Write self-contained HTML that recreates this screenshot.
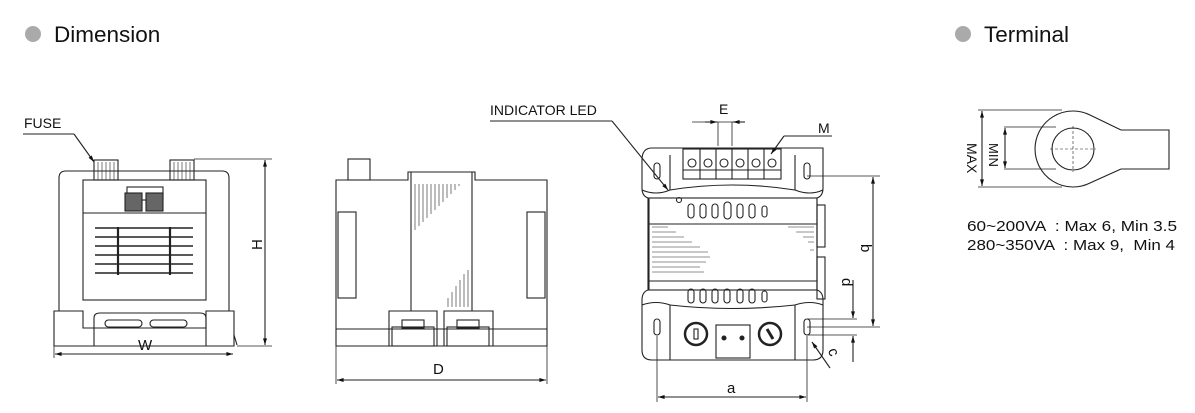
<!DOCTYPE html>
<html><head><meta charset="utf-8"><style>
body{margin:0;background:#fff}
svg{display:block}
text{font-family:"Liberation Sans",sans-serif;fill:#111;white-space:pre}
</style></head><body>
<svg width="1195" height="413" viewBox="0 0 1195 413" xmlns="http://www.w3.org/2000/svg">
<defs>
<marker id="ar" viewBox="0 0 10 10" refX="10" refY="5" markerWidth="8" markerHeight="6" orient="auto-start-reverse"><path d="M0,2 L10,5 L0,8 z" fill="#111"/></marker>
</defs>
<circle cx="33" cy="34" r="8" fill="#aaa"/>
<text x="54" y="42" font-size="22.5">Dimension</text>
<circle cx="963" cy="34" r="8" fill="#aaa"/>
<text x="984" y="42" font-size="22.5">Terminal</text>

<g fill="none" stroke="#222" stroke-width="1.1">
<!-- Front view -->
<text x="24" y="128" font-size="14" stroke="none">FUSE</text>
<line x1="23" y1="134" x2="74" y2="134"/>
<line x1="74" y1="134" x2="94" y2="162" marker-end="url(#ar)"/>
<path d="M59,311 V178 Q59,171 66,171 H222 Q229,171 229,178 V311"/>
<rect x="83" y="180" width="123" height="120"/>
<line x1="83" y1="213" x2="206" y2="213"/>
<rect x="94" y="160" width="24" height="20"/>
<rect x="170" y="160" width="24" height="20"/>
<g stroke-width="0.6"><path d="M98,162V180M102,162V180M106,162V180M110,162V180M114,162V180M174,162V180M178,162V180M182,162V180M186,162V180M190,162V180"/></g>
<rect x="127" y="187" width="36" height="13"/>
<rect x="125" y="193" width="17" height="18" fill="#666"/>
<rect x="146" y="193" width="17" height="18" fill="#666"/>
<g stroke-width="1.4"><path d="M95,228H193M95,237H193M95,246H193M95,255H193M95,264H193M95,273H193"/>
<path d="M118,227V275M170,227V275" stroke-width="2.2"/></g>
<path d="M54,346V311H83V328H206V311H234V346Z"/>
<path d="M94,346V318Q94,313 100,313H200Q206,313 206,318V346"/>
<rect x="105" y="320" width="37" height="7" rx="3.5"/>
<rect x="150" y="320" width="37" height="7" rx="3.5"/>
<line x1="234" y1="335" x2="237" y2="345"/>
<line x1="194" y1="159" x2="272" y2="159" stroke-width="0.8"/>
<line x1="237" y1="346" x2="272" y2="346" stroke-width="0.8"/>
<line x1="265" y1="160" x2="265" y2="345" marker-start="url(#ar)" marker-end="url(#ar)"/>
<text x="250" y="248" font-size="15" stroke="none" transform="rotate(-90 257 243)">H</text>
<line x1="54" y1="346" x2="54" y2="358" stroke-width="0.8"/>
<line x1="55" y1="354" x2="233" y2="354" marker-start="url(#ar)" marker-end="url(#ar)"/>
<text x="138" y="350" font-size="15" stroke="none">W</text>

<!-- Side view -->
<rect x="348" y="159" width="22" height="21"/>
<path d="M336,346V180H408V172H475V180H547V346Z"/>
<line x1="411" y1="172" x2="411" y2="311"/>
<line x1="472" y1="172" x2="472" y2="311"/>
<rect x="338" y="212" width="18" height="86"/>
<rect x="527" y="212" width="18" height="86"/>
<line x1="336" y1="329" x2="547" y2="329"/>
<path d="M389,346V311H437V346M444,346V311H493V346"/>
<rect x="392" y="327" width="42" height="19"/><rect x="402" y="320" width="22" height="8"/>
<rect x="447" y="327" width="42" height="19"/><rect x="457" y="320" width="22" height="8"/>
<g stroke-width="0.6"><path d="M415,184V230M419,184V226M423,184V222M427,184V218M431,184V214M435,184V210M439,184V206M443,184V202M447,184V198M451,184V194M455,184V190M459,184V186M448,307V298M452,307V292M456,307V286M460,307V280M464,307V274M468,307V270"/></g>
<line x1="336" y1="346" x2="336" y2="384" stroke-width="0.8"/>
<line x1="547" y1="346" x2="547" y2="384" stroke-width="0.8"/>
<line x1="337" y1="380" x2="546" y2="380" marker-start="url(#ar)" marker-end="url(#ar)"/>
<text x="433" y="374" font-size="15" stroke="none">D</text>

<!-- Front top view -->
<text x="490" y="115" font-size="14" stroke="none">INDICATOR LED</text>
<line x1="490" y1="121" x2="612" y2="121"/>
<line x1="612" y1="121" x2="668" y2="190" marker-end="url(#ar)"/>
<circle cx="679" cy="200" r="2.5"/>
<path d="M650,148H823Q823,148 823,160V188Q823,196 817,198V290Q823,292 823,300V350Q823,360 813,360H652Q642,360 642,350V300Q642,292 648,290V198Q642,196 642,188V160Q642,148 652,148Z"/>
<path d="M642,190Q656,196 670,190V155"/>
<path d="M823,190Q810,196 795,190V155"/>
<path d="M642,305Q656,300 670,305V360"/>
<path d="M823,305Q810,300 795,305V360"/>
<path d="M670,190Q732,180 795,190"/>
<path d="M670,305Q732,312 795,305"/>
<rect x="649" y="198" width="168" height="92"/>
<line x1="649" y1="224" x2="817" y2="224"/>
<line x1="649" y1="281" x2="817" y2="281"/>
<g stroke-width="0.6"><path d="M652,227H668M652,232H676M652,237H684M652,242H692M652,247H700M652,252H708M652,257H710M652,262H706M652,267H700M652,272H704M788,227H814M796,232H814M803,237H814M808,242H814M810,250H814"/></g>
<rect x="817" y="205" width="8" height="42"/><rect x="817" y="257" width="8" height="42"/>
<g><rect x="688" y="204" width="6" height="14" rx="3"/><rect x="700" y="204" width="6" height="14" rx="3"/><rect x="712" y="204" width="6" height="14" rx="3"/><rect x="724" y="202" width="7" height="17" rx="3.5"/><rect x="737" y="204" width="6" height="14" rx="3"/><rect x="749" y="204" width="6" height="14" rx="3"/><rect x="762" y="206" width="5" height="11" rx="2.5"/></g>
<g><rect x="688" y="289" width="6" height="14" rx="3"/><rect x="700" y="289" width="6" height="14" rx="3"/><rect x="712" y="289" width="6" height="14" rx="3"/><rect x="724" y="289" width="6" height="14" rx="3"/><rect x="737" y="289" width="6" height="14" rx="3"/><rect x="749" y="289" width="6" height="14" rx="3"/><rect x="762" y="291" width="5" height="11" rx="2.5"/></g>
<rect x="683" y="149" width="98" height="30"/>
<line x1="683" y1="170" x2="781" y2="170"/>
<g><circle cx="692" cy="163" r="4"/><circle cx="708" cy="163" r="4"/><circle cx="724" cy="163" r="4"/><circle cx="740" cy="163" r="4"/><circle cx="756" cy="163" r="4"/><circle cx="772" cy="163" r="4"/>
<path d="M700,149V179M716,149V179M732,149V179M748,149V179M764,149V179"/></g>
<rect x="654" y="163" width="6" height="16" rx="3"/>
<rect x="804" y="163" width="6" height="16" rx="3"/>
<rect x="654" y="319" width="6" height="16" rx="3"/>
<rect x="804" y="319" width="6" height="16" rx="3"/>
<circle cx="696" cy="334" r="11" stroke-width="2.5"/><rect x="694" y="329" width="4" height="10"/>
<circle cx="770" cy="334" r="11" stroke-width="2.5"/><line x1="767" y1="329" x2="773" y2="339" stroke-width="3"/>
<rect x="716" y="325" width="34" height="33"/><circle cx="724" cy="338" r="2" fill="#222"/><circle cx="742" cy="338" r="2" fill="#222"/>
<line x1="692" y1="122" x2="744" y2="122" stroke-width="0.8"/>
<line x1="718" y1="122" x2="718" y2="146" stroke-width="0.8"/>
<line x1="732" y1="122" x2="732" y2="146" stroke-width="0.8"/>
<line x1="705" y1="122" x2="717" y2="122" marker-end="url(#ar)"/>
<line x1="745" y1="122" x2="733" y2="122" marker-end="url(#ar)"/>
<text x="719" y="114" font-size="14" stroke="none">E</text>
<text x="818" y="133" font-size="14" stroke="none">M</text>
<line x1="784" y1="136" x2="832" y2="136"/>
<line x1="784" y1="136" x2="771" y2="154" marker-end="url(#ar)"/>
<line x1="807" y1="176" x2="880" y2="176" stroke-width="0.8"/>
<line x1="807" y1="327" x2="880" y2="327" stroke-width="0.8"/>
<line x1="873" y1="177" x2="873" y2="326" marker-start="url(#ar)" marker-end="url(#ar)"/>
<text x="858" y="257" font-size="15" stroke="none" transform="rotate(90 866 252)">b</text>
<line x1="807" y1="319" x2="857" y2="319" stroke-width="0.8"/>
<line x1="807" y1="335" x2="857" y2="335" stroke-width="0.8"/>
<line x1="853" y1="280" x2="853" y2="318" marker-end="url(#ar)"/>
<line x1="853" y1="362" x2="853" y2="336" marker-end="url(#ar)"/>
<text x="838" y="290" font-size="15" stroke="none" transform="rotate(90 846 286)">d</text>
<line x1="830" y1="368" x2="812" y2="342" marker-end="url(#ar)"/>
<text x="825" y="358" font-size="15" stroke="none" transform="rotate(70 832 356)">c</text>
<line x1="657" y1="336" x2="657" y2="402" stroke-width="0.8"/>
<line x1="807" y1="336" x2="807" y2="402" stroke-width="0.8"/>
<line x1="658" y1="397" x2="806" y2="397" marker-start="url(#ar)" marker-end="url(#ar)"/>
<text x="727" y="393" font-size="15" stroke="none">a</text>

<!-- Terminal -->
<path d="M1121,130H1169V169H1121"/>
<path d="M1121,130L1090,115A38,38 0 1 0 1090,183L1121,169"/>
<circle cx="1073" cy="149" r="21"/>
<line x1="1050" y1="149" x2="1096" y2="149" stroke-dasharray="3,2" stroke-width="0.6"/>
<line x1="1073" y1="126" x2="1073" y2="172" stroke-dasharray="3,2" stroke-width="0.6"/>
<line x1="978" y1="110" x2="1062" y2="110" stroke-width="0.7"/>
<line x1="978" y1="187" x2="1062" y2="187" stroke-width="0.7"/>
<line x1="982" y1="111" x2="982" y2="186" marker-start="url(#ar)" marker-end="url(#ar)"/>
<line x1="1004" y1="127" x2="1056" y2="127" stroke-width="0.7"/>
<line x1="1004" y1="169" x2="1056" y2="169" stroke-width="0.7"/>
<line x1="1005" y1="128" x2="1005" y2="168" marker-start="url(#ar)" marker-end="url(#ar)"/>
<text x="965" y="155" font-size="14" stroke="none" transform="rotate(90 972 150)">MAX</text>
<text x="986" y="154" font-size="13" stroke="none" transform="rotate(90 993 150)">MIN</text>
</g>
<text x="967" y="231" font-size="15" textLength="210" lengthAdjust="spacingAndGlyphs">60~200VA  : Max 6, Min 3.5</text>
<text x="967" y="250" font-size="15" textLength="208" lengthAdjust="spacingAndGlyphs">280~350VA  : Max 9,  Min 4</text>
</svg>
</body></html>
